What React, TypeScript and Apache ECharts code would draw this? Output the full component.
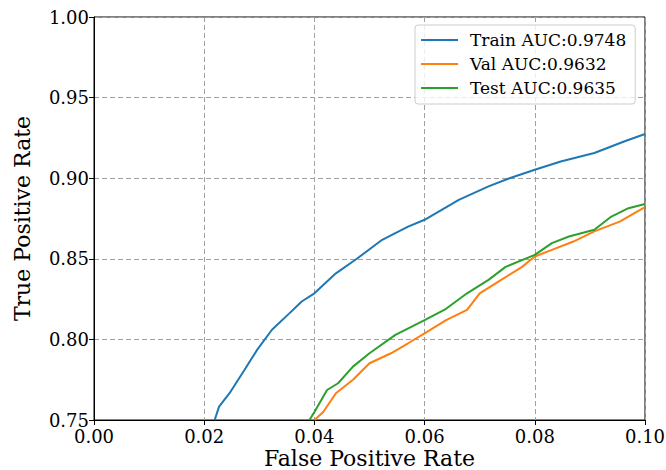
import React, { useEffect, useRef } from "react";
import * as echarts from "echarts";

const xTicks = [0, 0.02, 0.04, 0.06, 0.08, 0.1];
const yTicks = [0.75, 0.8, 0.85, 0.9, 0.95, 1.0];

const seriesNames = ["Train AUC:0.9748", "Val AUC:0.9632", "Test AUC:0.9635"];
const seriesColors = ["#1f77b4", "#ff7f0e", "#2ca02c"];

const trainFpr = [0.0219, 0.0227, 0.0246, 0.0273, 0.0296, 0.0323, 0.0354, 0.0377, 0.04, 0.0439, 0.0477, 0.0523, 0.057, 0.06, 0.0662, 0.0716, 0.0754, 0.08, 0.0847, 0.0908, 0.0962, 0.1];
const trainTpr = [0.75, 0.7583, 0.7666, 0.781, 0.7935, 0.806, 0.816, 0.8235, 0.8286, 0.841, 0.85, 0.8618, 0.87, 0.8742, 0.8866, 0.8949, 0.9, 0.9052, 0.9104, 0.9156, 0.9228, 0.9274];

const valFpr = [0.04, 0.0416, 0.0439, 0.047, 0.05, 0.0539, 0.057, 0.06, 0.0639, 0.0677, 0.07, 0.0739, 0.0777, 0.08, 0.0831, 0.087, 0.0908, 0.0954, 0.1];
const valTpr = [0.75, 0.755, 0.7666, 0.775, 0.7852, 0.7914, 0.7976, 0.8038, 0.812, 0.8183, 0.8286, 0.8369, 0.845, 0.8514, 0.8555, 0.8607, 0.867, 0.8731, 0.882];

const testFpr = [0.0391, 0.04, 0.0423, 0.0443, 0.047, 0.05, 0.0547, 0.06, 0.0639, 0.0677, 0.0716, 0.0747, 0.08, 0.0831, 0.0862, 0.0908, 0.0939, 0.097, 0.1];
const testTpr = [0.75, 0.755, 0.7686, 0.7728, 0.7831, 0.7914, 0.8028, 0.812, 0.819, 0.8286, 0.8369, 0.845, 0.8524, 0.8597, 0.8638, 0.868, 0.8762, 0.8814, 0.884];

const FONT = "DejaVu Serif";

function zip(xs: number[], ys: number[]) {
  return xs.map((x, i) => [x, ys[i]]);
}

export default function App() {
  const ref = useRef<HTMLDivElement>(null);
  useEffect(() => {
    if (!ref.current) return;
    const chart = echarts.init(ref.current, undefined, { renderer: "svg" });
    const datas = [zip(trainFpr, trainTpr), zip(valFpr, valTpr), zip(testFpr, testTpr)];
    chart.setOption({
      animation: false,
      backgroundColor: "#ffffff",
      grid: {
        left: 94,
        right: 21,
        top: 17,
        bottom: 50,
        containLabel: false,
        outerBoundsMode: "none",
        show: true,
        borderColor: "#000000",
        borderWidth: 1,
        backgroundColor: "transparent",
      },
      legend: {
        left: 415,
        top: 25,
        orient: "vertical",
        icon: "rect",
        itemWidth: 37,
        itemHeight: 2,
        itemGap: 0,
        padding: [3, 9, 4, 6],
        backgroundColor: "rgba(255,255,255,0.8)",
        borderColor: "#cccccc",
        borderWidth: 1,
        borderRadius: 3,
        textStyle: {
          fontFamily: FONT,
          fontSize: 17,
          lineHeight: 24,
          color: "#000",
          padding: [0, 0, 0, 7],
        },
        data: seriesNames,
      },
      xAxis: {
        type: "value",
        min: xTicks[0],
        max: xTicks[xTicks.length - 1],
        interval: 0.02,
        name: "False Positive Rate",
        nameLocation: "middle",
        nameGap: 27,
        nameMoveOverlap: false,
        nameTextStyle: { fontFamily: FONT, fontSize: 22, color: "#000" },
        axisLine: { show: true, onZero: false, lineStyle: { color: "#000", width: 1 } },
        axisTick: { show: true, length: 5, inside: false, lineStyle: { color: "#000" } },
        axisLabel: {
          fontFamily: FONT,
          fontSize: 18,
          lineHeight: 16,
          color: "#000",
          margin: 8,
          formatter: (v: number) => v.toFixed(2),
        },
        splitLine: { show: true, lineStyle: { color: "#a0a0a0", type: [5, 3], width: 1 } },
      },
      yAxis: {
        type: "value",
        min: yTicks[0],
        max: yTicks[yTicks.length - 1],
        interval: 0.05,
        name: "True Positive Rate",
        nameLocation: "middle",
        nameGap: 61,
        nameMoveOverlap: false,
        nameTextStyle: { fontFamily: FONT, fontSize: 22, color: "#000" },
        axisLine: { show: true, onZero: false, lineStyle: { color: "#000", width: 1 } },
        axisTick: { show: true, length: 5, inside: false, lineStyle: { color: "#000" } },
        axisLabel: {
          fontFamily: FONT,
          fontSize: 18,
          lineHeight: 16,
          color: "#000",
          margin: 5,
          formatter: (v: number) => v.toFixed(2),
        },
        splitLine: { show: true, lineStyle: { color: "#a0a0a0", type: [5, 3], width: 1 } },
      },
      series: seriesNames.map((name, i) => ({
        name,
        type: "line",
        data: datas[i],
        symbol: "none",
        smooth: false,
        clip: true,
        color: seriesColors[i],
        lineStyle: { color: seriesColors[i], width: 2 },
        z: 3 + (i === 2 ? 1 : 0),
      })),
    });
    return () => chart.dispose();
  }, []);
  return (
    <div
      ref={ref}
      style={{ position: "absolute", left: 0, top: 0, width: 666, height: 470 }}
    />
  );
}
